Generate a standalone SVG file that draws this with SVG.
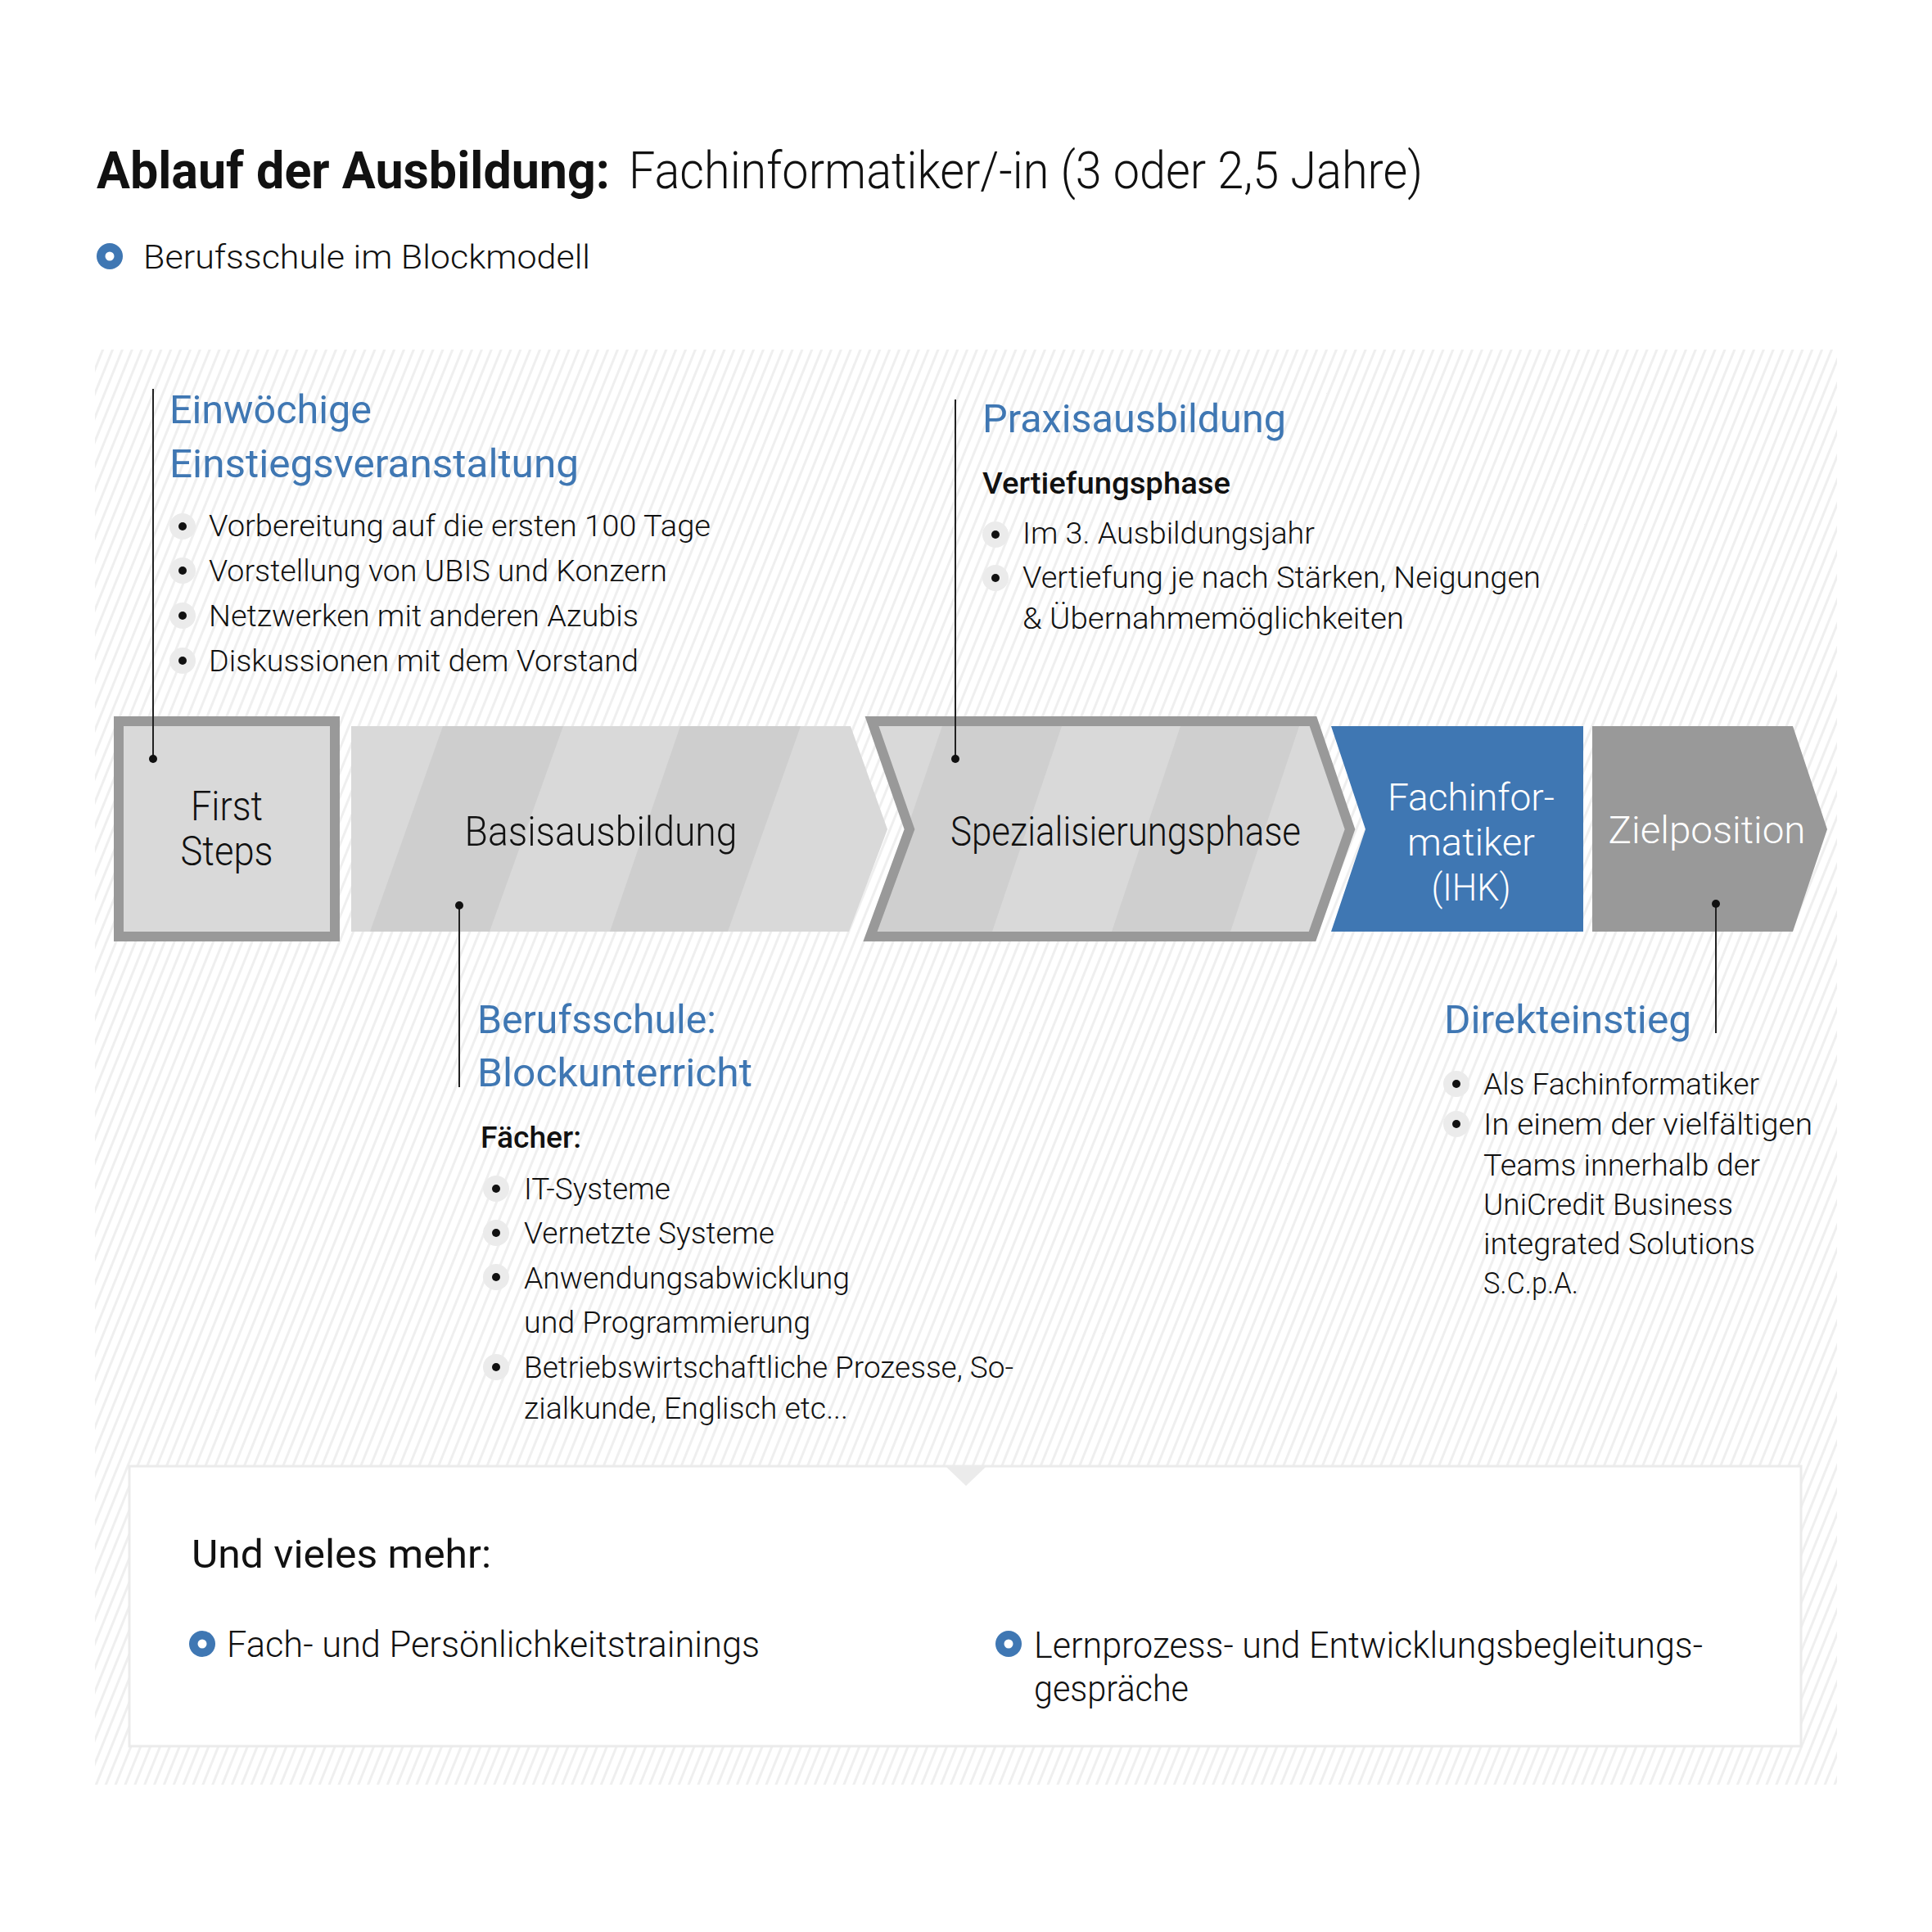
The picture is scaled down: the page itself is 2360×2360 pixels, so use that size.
<svg xmlns="http://www.w3.org/2000/svg" width="2360" height="2360" viewBox="0 0 2360 2360">
<defs>
<style>
text{font-family:Roboto,"Open Sans","Liberation Sans",sans-serif;fill:#111;}
.t-bold{font-weight:700;font-size:63px;}
.t-light{font-weight:300;font-size:63px;}
.sub{font-weight:300;font-size:40px;}
.head{font-weight:400;font-size:49px;fill:#3f77b3;}
.li{font-weight:300;font-size:36px;}
.sh{font-weight:500;font-size:36px;}
.lbl{font-weight:300;font-size:50px;text-anchor:middle;}
.lblw{font-weight:300;font-size:47px;text-anchor:middle;fill:#fff;}
.more{font-weight:400;font-size:49px;}
.mli{font-weight:300;font-size:44px;}
.conn{stroke:#222;stroke-width:2;fill:none;}
.dot{fill:#111;}
.gb{fill:#ebebeb;}
.bd{fill:#111;}
.ring{fill:#3f77b3;}
.ringc{fill:#fff;}
</style>
<pattern id="hatch" patternUnits="userSpaceOnUse" width="11" height="11" patternTransform="rotate(22)">
<rect x="0" y="0" width="11" height="11" fill="#fff"/>
<rect x="0" y="0" width="3" height="11" fill="#efefef"/>
</pattern>
<clipPath id="clipBasis"><polygon points="429,887 1039,887 1084,1013 1037,1138 429,1138"/></clipPath>
<clipPath id="clipSpez"><polygon points="1065,881 1604,881 1649,1013 1603,1144 1063,1144 1111,1013"/></clipPath>
</defs>
<rect width="2360" height="2360" fill="#fff"/>
<rect id="background" x="116" y="427" width="2128" height="1753" fill="url(#hatch)"/>

<g id="title">
<text class="t-bold" x="118" y="230" textLength="627" lengthAdjust="spacingAndGlyphs">Ablauf der Ausbildung:</text>
<text class="t-light" x="768" y="230" textLength="970" lengthAdjust="spacingAndGlyphs">Fachinformatiker/-in (3 oder 2,5 Jahre)</text>
</g>
<g id="subtitle">
<circle class="ring" cx="134" cy="313" r="16"/><circle class="ringc" cx="134" cy="313" r="5.5"/>
<text class="sub" x="175" y="328" textLength="546" lengthAdjust="spacingAndGlyphs">Berufsschule im Blockmodell</text>
</g>

<g id="node-first-steps">
<rect x="145" y="881" width="264" height="263" fill="#d9d9d9" stroke="#999" stroke-width="12"/>
<text class="lbl" x="277" y="1002" textLength="88" lengthAdjust="spacingAndGlyphs">First</text>
<text class="lbl" x="277" y="1057" textLength="113" lengthAdjust="spacingAndGlyphs">Steps</text>
</g>

<g id="node-basisausbildung">
<polygon points="429,887 1039,887 1084,1013 1037,1138 429,1138" fill="#d9d9d9"/>
<g clip-path="url(#clipBasis)" fill="#cecece">
<polygon points="541,887 688,887 598,1138 452,1138"/>
<polygon points="831,887 978,887 889,1138 745,1138"/>
</g>
<text class="lbl" x="734" y="1033" textLength="333" lengthAdjust="spacingAndGlyphs">Basisausbildung</text>
</g>

<g id="node-spezialisierungsphase">
<polygon points="1065,881 1604,881 1649,1013 1603,1144 1063,1144 1111,1013" fill="#d9d9d9"/>
<g clip-path="url(#clipSpez)" fill="#cfcfcf">
<polygon points="1153,881 1299,881 1210,1144 1063,1144"/>
<polygon points="1444,881 1589,881 1501,1144 1356,1144"/>
</g>
<polygon points="1065,881 1604,881 1649,1013 1603,1144 1063,1144 1111,1013" fill="none" stroke="#999" stroke-width="12"/>
<text class="lbl" x="1375" y="1033" textLength="428" lengthAdjust="spacingAndGlyphs">Spezialisierungsphase</text>
</g>

<g id="node-fachinformatiker">
<polygon points="1626,887 1934,887 1934,1138 1626,1138 1668,1013" fill="#3f77b3"/>
<text class="lblw" x="1797" y="990" textLength="204" lengthAdjust="spacingAndGlyphs">Fachinfor-</text>
<text class="lblw" x="1797" y="1045" textLength="156" lengthAdjust="spacingAndGlyphs">matiker</text>
<text class="lblw" x="1797" y="1100" textLength="97" lengthAdjust="spacingAndGlyphs">(IHK)</text>
</g>

<g id="node-zielposition">
<polygon points="1945,887 2190,887 2232,1013 2190,1138 1945,1138" fill="#999"/>
<text class="lblw" x="2085" y="1030" textLength="241" lengthAdjust="spacingAndGlyphs">Zielposition</text>
</g>

<g id="connectors">
<line class="conn" x1="187" y1="475" x2="187" y2="927"/>
<circle class="dot" cx="187" cy="927" r="5"/>
<line class="conn" x1="561" y1="1106" x2="561" y2="1328"/>
<circle class="dot" cx="561" cy="1106" r="5"/>
<line class="conn" x1="1167" y1="488" x2="1167" y2="927"/>
<circle class="dot" cx="1167" cy="927" r="5"/>
<line class="conn" x1="2096" y1="1104" x2="2096" y2="1262"/>
<circle class="dot" cx="2096" cy="1104" r="5"/>
</g>

<g id="note-einstieg">
<text class="head" x="207" y="517" textLength="247" lengthAdjust="spacingAndGlyphs">Einwöchige</text>
<text class="head" x="207" y="583" textLength="500" lengthAdjust="spacingAndGlyphs">Einstiegsveranstaltung</text>
<circle class="gb" cx="223" cy="643" r="16"/><circle class="bd" cx="223" cy="643" r="5"/>
<text class="li" x="255" y="655" textLength="613" lengthAdjust="spacingAndGlyphs">Vorbereitung auf die ersten 100 Tage</text>
<circle class="gb" cx="223" cy="697" r="16"/><circle class="bd" cx="223" cy="697" r="5"/>
<text class="li" x="255" y="710" textLength="560" lengthAdjust="spacingAndGlyphs">Vorstellung von UBIS und Konzern</text>
<circle class="gb" cx="223" cy="752" r="16"/><circle class="bd" cx="223" cy="752" r="5"/>
<text class="li" x="255" y="765" textLength="525" lengthAdjust="spacingAndGlyphs">Netzwerken mit anderen Azubis</text>
<circle class="gb" cx="223" cy="807" r="16"/><circle class="bd" cx="223" cy="807" r="5"/>
<text class="li" x="255" y="820" textLength="525" lengthAdjust="spacingAndGlyphs">Diskussionen mit dem Vorstand</text>
</g>

<g id="note-praxis">
<text class="head" x="1200" y="528" textLength="371" lengthAdjust="spacingAndGlyphs">Praxisausbildung</text>
<text class="sh" x="1200" y="603" textLength="303" lengthAdjust="spacingAndGlyphs">Vertiefungsphase</text>
<circle class="gb" cx="1216" cy="653" r="16"/><circle class="bd" cx="1216" cy="653" r="5"/>
<text class="li" x="1249" y="664" textLength="357" lengthAdjust="spacingAndGlyphs">Im 3. Ausbildungsjahr</text>
<circle class="gb" cx="1216" cy="706" r="16"/><circle class="bd" cx="1216" cy="706" r="5"/>
<text class="li" x="1249" y="718" textLength="633" lengthAdjust="spacingAndGlyphs">Vertiefung je nach Stärken, Neigungen</text>
<text class="li" x="1249" y="768" textLength="466" lengthAdjust="spacingAndGlyphs">&amp; Übernahmemöglichkeiten</text>
</g>

<g id="note-berufsschule">
<text class="head" x="583" y="1262" textLength="292" lengthAdjust="spacingAndGlyphs">Berufsschule:</text>
<text class="head" x="583" y="1327" textLength="336" lengthAdjust="spacingAndGlyphs">Blockunterricht</text>
<text class="sh" x="587" y="1402" textLength="123" lengthAdjust="spacingAndGlyphs">Fächer:</text>
<circle class="gb" cx="606" cy="1452" r="16"/><circle class="bd" cx="606" cy="1452" r="5"/>
<text class="li" x="640" y="1465" textLength="179" lengthAdjust="spacingAndGlyphs">IT-Systeme</text>
<circle class="gb" cx="606" cy="1506" r="16"/><circle class="bd" cx="606" cy="1506" r="5"/>
<text class="li" x="640" y="1519" textLength="306" lengthAdjust="spacingAndGlyphs">Vernetzte Systeme</text>
<circle class="gb" cx="606" cy="1560" r="16"/><circle class="bd" cx="606" cy="1560" r="5"/>
<text class="li" x="640" y="1574" textLength="398" lengthAdjust="spacingAndGlyphs">Anwendungsabwicklung</text>
<text class="li" x="640" y="1628" textLength="350" lengthAdjust="spacingAndGlyphs">und Programmierung</text>
<circle class="gb" cx="606" cy="1670" r="16"/><circle class="bd" cx="606" cy="1670" r="5"/>
<text class="li" x="640" y="1683" textLength="598" lengthAdjust="spacingAndGlyphs">Betriebswirtschaftliche Prozesse, So-</text>
<text class="li" x="640" y="1733" textLength="396" lengthAdjust="spacingAndGlyphs">zialkunde, Englisch etc...</text>
</g>

<g id="note-direkteinstieg">
<text class="head" x="1764" y="1262" textLength="302" lengthAdjust="spacingAndGlyphs">Direkteinstieg</text>
<circle class="gb" cx="1779" cy="1324" r="16"/><circle class="bd" cx="1779" cy="1324" r="5"/>
<text class="li" x="1812" y="1337" textLength="337" lengthAdjust="spacingAndGlyphs">Als Fachinformatiker</text>
<circle class="gb" cx="1779" cy="1373" r="16"/><circle class="bd" cx="1779" cy="1373" r="5"/>
<text class="li" x="1812" y="1386" textLength="402" lengthAdjust="spacingAndGlyphs">In einem der vielfältigen</text>
<text class="li" x="1812" y="1436" textLength="338" lengthAdjust="spacingAndGlyphs">Teams innerhalb der</text>
<text class="li" x="1812" y="1484" textLength="305" lengthAdjust="spacingAndGlyphs">UniCredit Business</text>
<text class="li" x="1812" y="1532" textLength="332" lengthAdjust="spacingAndGlyphs">integrated Solutions</text>
<text class="li" x="1812" y="1580" textLength="116" lengthAdjust="spacingAndGlyphs">S.C.p.A.</text>
</g>

<g id="box-more">
<rect x="158" y="1791" width="2042" height="342" fill="#fff" stroke="#ebebeb" stroke-width="3"/>
<polygon points="1156,1792 1204,1792 1180,1815" fill="#ebebeb"/>
<text class="more" x="234" y="1915" textLength="366" lengthAdjust="spacingAndGlyphs">Und vieles mehr:</text>
<circle class="ring" cx="247" cy="2008" r="16"/><circle class="ringc" cx="247" cy="2008" r="5.5"/>
<text class="mli" x="277" y="2024" textLength="651" lengthAdjust="spacingAndGlyphs">Fach- und Persönlichkeitstrainings</text>
<circle class="ring" cx="1232" cy="2008" r="16"/><circle class="ringc" cx="1232" cy="2008" r="5.5"/>
<text class="mli" x="1263" y="2025" textLength="817" lengthAdjust="spacingAndGlyphs">Lernprozess- und Entwicklungsbegleitungs-</text>
<text class="mli" x="1263" y="2078" textLength="189" lengthAdjust="spacingAndGlyphs">gespräche</text>
</g>
</svg>
